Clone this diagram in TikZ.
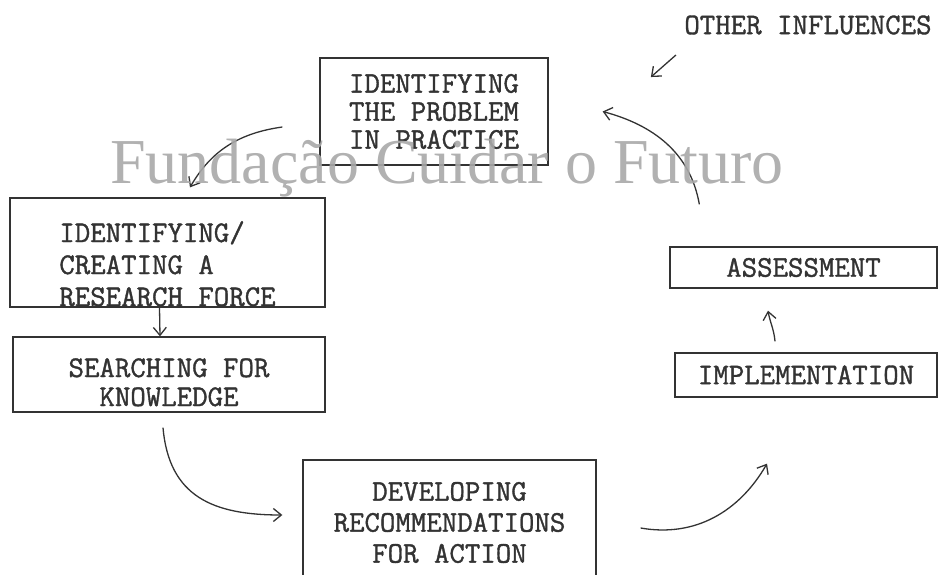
\documentclass[tikz,border=0pt]{standalone}
\usepackage{fontspec}
\newfontfamily\markfont{Liberation Serif}
\newfontfamily\typefont{Latin Modern Mono}[FakeBold=1.2]
\usetikzlibrary{arrows.meta}
\newcommand{\typesize}[1]{\typefont\fontsize{30}{#1}\selectfont}
\newcommand{\inklw}{1.3pt}

\begin{document}
\begin{tikzpicture}[x=1pt,y=1pt]
            \definecolor{ink}{gray}{0.2}
            \tikzset{stage/.style = {draw=ink, line width=\inklw, text=ink, align=center, inner sep=0pt},
                     flow/.style = {draw=ink, line width=1.3pt, -{Straight Barb[length=8pt,width=13pt]}}}
            \useasboundingbox (0,0) rectangle (940,-575);
            % boxes of the cycle
            \node[stage, font=\typesize{28}, minimum width=228pt, minimum height=107pt] (problem) at (434,-111.5) {IDENTIFYING\\THE PROBLEM\\IN PRACTICE};
            \node[stage, font=\typesize{32}, align=left, text height=107pt, text depth=0pt, minimum width=315pt, minimum height=109pt] (force) at (167.5,-252.5) {IDENTIFYING/\\CREATING A\\RESEARCH FORCE};
            \node[stage, font=\typesize{29}, text height=63pt, text depth=0pt, minimum width=312pt, minimum height=75pt] (search) at (169,-374.5) {SEARCHING FOR\\KNOWLEDGE};
            \node[stage, font=\typesize{31}, minimum width=293pt, minimum height=125pt] (develop) at (449.5,-522.5) {DEVELOPING\\RECOMMENDATIONS\\FOR ACTION};
            \node[stage, font=\typesize{31}, minimum width=262pt, minimum height=44pt] (implement) at (806,-375) {IMPLEMENTATION};
            \node[stage, font=\typesize{31}, minimum width=267pt, minimum height=41pt] (assess) at (803.5,-267.5) {ASSESSMENT};
            \node[text=ink, font=\typesize{31}] (influences) at (808,-25) {OTHER INFLUENCES};
            % arrows
            \draw[flow] ([shift={(-5pt,-17pt)}]influences.south west) -- ([shift={(-30pt,-39pt)}]influences.south west);
            \draw[flow] ([shift={(30pt,42pt)}]assess.north west) to[out=100,in=-15] ([xshift=54pt]problem.east);
            \draw[flow] ([shift={(-37pt,-15.5pt)}]problem.west) to[out=188,in=60] ([shift={(22.5pt,10pt)}]force.north);
            \draw[flow] ([xshift=-8pt]force.south) -- ([xshift=-9pt]search.north);
            \draw[flow] ([shift={(-6pt,-15pt)}]search.south) to[out=-85,in=180,looseness=1.2] ([shift={(-20pt,7.5pt)}]develop.west);
            \draw[flow] ([shift={(44pt,-5.5pt)}]develop.east) to[out=-10,in=-120] ([shift={(-39pt,-66pt)}]implement.south);
            \draw[flow] ([shift={(-31pt,11pt)}]implement.north) to[out=95,in=-80] ([shift={(-35.5pt,-22pt)}]assess.south);
            % watermark
            \node[anchor=base west, inner sep=0pt, text=black!34, opacity=0.9, font=\markfont\fontsize{64}{64}\selectfont] (mark) at (110,-183) {Fundação Cuidar o Futuro};
\end{tikzpicture}
\end{document}
